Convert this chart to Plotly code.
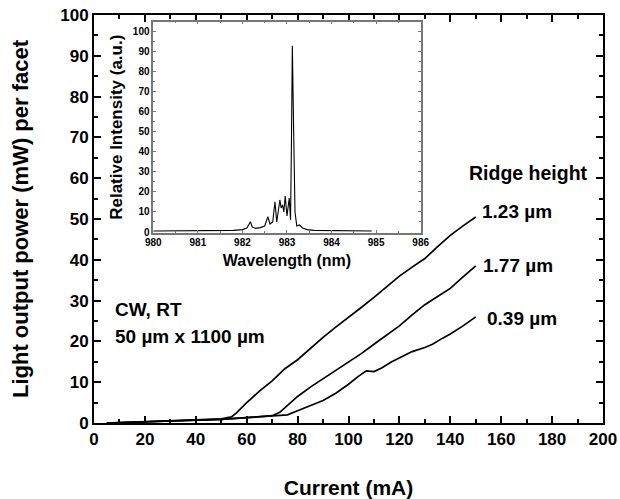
import plotly.graph_objects as go

# Main L-I data (Current mA, Power mW)
cur_123 = [5, 10, 20, 30, 40, 50, 54, 56, 60, 65, 70, 75, 80, 85, 90, 95, 100, 105, 110, 115, 120, 125, 130, 135, 140, 145, 150]
pow_123 = [0.0, 0.1, 0.3, 0.5, 0.7, 1.0, 1.5, 2.5, 5.0, 7.8, 10.3, 13.3, 15.5, 18.3, 21.0, 23.5, 25.8, 28.3, 30.8, 33.3, 36.0, 38.2, 40.3, 43.2, 46.0, 48.3, 50.5]

cur_177 = [5, 10, 20, 30, 40, 50, 60, 65, 70, 73, 76, 80, 85, 90, 95, 100, 105, 110, 115, 120, 125, 130, 135, 140, 145, 150]
pow_177 = [0.0, 0.1, 0.3, 0.5, 0.7, 0.9, 1.3, 1.5, 1.8, 2.6, 4.2, 6.5, 8.8, 10.8, 12.8, 15.0, 17.0, 19.3, 21.5, 23.8, 26.5, 29.0, 31.0, 33.0, 35.8, 38.5]

cur_039 = [5, 10, 20, 30, 40, 50, 60, 65, 70, 76, 80, 85, 90, 95, 100, 104, 107, 110, 113, 117, 120, 125, 130, 133, 137, 140, 145, 150]
pow_039 = [0.0, 0.1, 0.3, 0.5, 0.7, 0.9, 1.3, 1.5, 1.7, 2.0, 3.0, 4.2, 5.5, 7.3, 9.5, 11.5, 12.8, 12.6, 13.5, 15.0, 16.0, 17.5, 18.5, 19.3, 20.8, 21.8, 23.8, 26.0]

# Inset spectrum (Wavelength nm, Relative intensity a.u.)
wl = [980.0, 981.0, 981.5, 981.8, 982.0, 982.1, 982.18, 982.22, 982.3, 982.4, 982.5, 982.57, 982.62,
      982.68, 982.73, 982.77, 982.84, 982.87, 982.9, 982.93, 982.96, 983.0, 983.05, 983.08, 983.1,
      983.12, 983.15, 983.18, 983.22, 983.28, 983.35, 983.45, 983.6, 984.0, 984.9]
inten = [0.5, 0.5, 0.6, 0.8, 1.2, 2.0, 5.1, 2.5, 1.8, 2.2, 3.0, 7.6, 4.0,
         5.0, 15.1, 5.0, 16.0, 12.0, 13.5, 10.0, 18.0, 8.0, 17.0, 6.0, 45.0,
         93.0, 50.0, 10.0, 3.0, 3.5, 2.0, 1.2, 0.8, 0.6, 0.5]

x_ticks = [0, 20, 40, 60, 80, 100, 120, 140, 160, 180, 200]
y_ticks = [0, 10, 20, 30, 40, 50, 60, 70, 80, 90, 100]

FONT = "Liberation Sans, Arial, sans-serif"
line = dict(color="black", width=1.7)

fig = go.Figure()
fig.add_trace(go.Scatter(x=cur_123, y=pow_123, mode="lines", line=line, xaxis="x", yaxis="y"))
fig.add_trace(go.Scatter(x=cur_177, y=pow_177, mode="lines", line=line, xaxis="x", yaxis="y"))
fig.add_trace(go.Scatter(x=cur_039, y=pow_039, mode="lines", line=line, xaxis="x", yaxis="y"))
fig.add_trace(go.Scatter(x=wl, y=inten, mode="lines", line=dict(color="black", width=1.1), xaxis="x2", yaxis="y2"))

main_axis = dict(showline=True, linecolor="black", linewidth=2, mirror="ticks", ticks="inside",
                 ticklen=7, tickwidth=2, tickcolor="black", showgrid=False, zeroline=False,
                 automargin=False, ticklabeloverflow="allow",
                 tickfont=dict(family=FONT, size=17, color="black", weight="bold"))
inset_axis = dict(showline=True, linecolor="#777", linewidth=1.5, mirror="ticks", ticks="inside",
                  ticklen=3, tickwidth=1, tickcolor="#777", showgrid=False, zeroline=False,
                  automargin=False, ticklabeloverflow="allow",
                  tickfont=dict(family=FONT, size=10, color="black", weight="bold"))

fig.update_layout(
    width=620, height=499,
    margin=dict(l=94, r=17, t=15, b=76),
    paper_bgcolor="white", plot_bgcolor="white",
    showlegend=False,
    xaxis=dict(**main_axis, range=[0, 200], tickvals=x_ticks,
               minor=dict(ticks="inside", ticklen=4, tickwidth=1.5, tickcolor="black", dtick=10, tick0=0),
               title=dict(text="Current (mA)", standoff=38,
                          font=dict(family=FONT, size=21, color="black", weight="bold"))),
    yaxis=dict(**main_axis, range=[0, 100], tickvals=y_ticks,
               minor=dict(ticks="inside", ticklen=4, tickwidth=1.5, tickcolor="black", dtick=5, tick0=0),
               title=dict(text="Light output power (mW) per facet", standoff=26,
                          font=dict(family=FONT, size=22, color="black", weight="bold"))),
    xaxis2=dict(**inset_axis, domain=[0.1165, 0.6418], anchor="y2", range=[980, 986], dtick=1,
                minor=dict(ticks="inside", ticklen=2, tickcolor="#777", dtick=0.5),
                title=dict(text="Wavelength (nm)", standoff=7,
                           font=dict(family=FONT, size=16, color="black", weight="bold"))),
    yaxis2=dict(**inset_axis, domain=[0.4664, 0.9836], anchor="x2", range=[-0.35, 105], dtick=10,
                minor=dict(ticks="inside", ticklen=2, tickcolor="#777", dtick=5),
                title=dict(text="Relative Intensity (a.u.)", standoff=6,
                           font=dict(family=FONT, size=17, color="black", weight="bold"))),
)

anns = [
    ("Ridge height", 170.9, 61.3, "center", 19.5),
    ("1.23 µm", 151.7, 51.8, "left", 19),
    ("1.77 µm", 152.1, 38.7, "left", 19),
    ("0.39 µm", 153.6, 25.5, "left", 19),
    ("CW, RT", 7.3, 27.7, "left", 19),
    ("50 µm x 1100 µm", 7.3, 21.3, "left", 19),
]
for t, x, y, xa, sz in anns:
    fig.add_annotation(text=t, x=x, y=y, xref="x", yref="y", xanchor=xa, yanchor="middle",
                       showarrow=False, font=dict(family=FONT, size=sz, color="black", weight="bold"))

fig.write_html("out.html", config={"displayModeBar": False},
               post_script="document.body.style.margin='0px';document.body.style.overflow='hidden';")
